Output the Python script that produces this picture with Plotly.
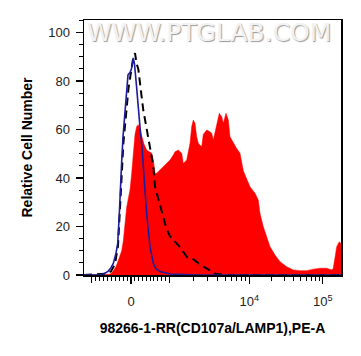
import numpy as np
import plotly.graph_objects as go

# ---- display (biexponential-like) axis definition ----
scale_values = [-1000, 0, 1000, 10000, 100000]
scale_channels = [7.7, 47.0, 85.3, 165.3, 238.7]

def to_channel(v):
    v = np.asarray(v, dtype=float)
    lin = np.interp(v, scale_values[:3], scale_channels[:3])
    lg = np.interp(np.log10(np.maximum(v, 1000.0)), [3, 4, 5], scale_channels[2:])
    return np.where(v <= 1000, lin, lg)

labeled_tick_values = [0, 10000, 100000]
labeled_tick_text = ["0", "10<sup>4</sup>", "10<sup>5</sup>"]
unlabeled_major_values = [-1000, 1000]
minor_tick_values = ([-100 * k for k in range(1, 10)] + [100 * k for k in range(1, 10)]
                     + [1000 * k for k in range(2, 10)] + [10000 * k for k in range(2, 10)])

# ---- data (x in display channels, y = relative cell number) ----
red_x = [0, 24, 26, 29, 32, 34.3, 37.7, 39.3, 41, 42.7, 44.5, 46, 47.7, 49.3, 51, 52.7, 54.3,
         56, 57.7, 60, 62.7, 65, 67.7, 69.3, 71, 72.7, 76, 79.3, 82.7, 86, 89.3, 91, 94.3,
         97.7, 99.3, 102.7, 106, 107.7, 109.3, 111, 112.7, 114.3, 116, 117.7, 119.3, 122.7,
         126, 127.7, 129.3, 132.7, 135.3, 137.7, 139.3, 142, 144.3, 146, 149.3, 152.7, 156,
         159.3, 162.3, 166, 171, 174.3, 176, 179.3, 182.7, 186, 191, 196, 202.7, 209.3, 216,
         222.7, 229.3, 236, 242.7, 247.7, 249.3, 252.7, 255.3, 257]
red_y = [0, 0, 0.3, 1.5, 3.5, 6, 10, 14, 21, 28, 32, 35, 42, 51.5, 58, 61.2, 62,
         59.8, 57, 54, 51.5, 50.8, 50.2, 47.4, 42, 42, 43.3, 44.7, 46, 47.4, 49.5, 50.8, 51.5,
         50.2, 46, 47.4, 54.3, 61.2, 63.9, 62.6, 57, 54.3, 53.5, 53, 58, 59.8,
         59.1, 58.4, 55.7, 62.6, 66.7, 65.3, 62.6, 66.7, 63.9, 57, 54.3, 52.2, 50.2,
         43, 40, 36.4, 33.7, 30.9, 25.4, 19.9, 15.8, 11.7, 8.2, 5.5, 3.4, 2.1, 1.8,
         1.8, 2.4, 2.8, 2.8, 2.1, 2.8, 11.7, 13.7, 13]

blue_x = [0, 16, 20, 24, 27, 29.3, 32, 33.7, 35.3, 36.5, 37.7, 39, 41, 42.5, 44, 46, 47.5,
          49.3, 50.5, 52.5, 54.3, 56, 57.7, 59.3, 61, 62.7, 66, 69.3, 72, 76, 86, 116, 257]
blue_y = [0, 0, 0.5, 1.5, 3, 4.8, 9, 13, 25, 39, 47, 57, 68, 78, 82.5, 83.5, 85,
          89.5, 87, 78, 68, 61, 54, 45, 35, 25, 11.7, 4.8, 2.5, 1.4, 0.4, 0, 0]

dash_x = [0, 22, 27, 31, 34, 35.5, 36.7, 39.3, 42.7, 44.5, 47.5, 49, 51, 52.7, 54.3, 56,
          57.5, 59.3, 62.7, 66, 69.3, 71, 76, 79, 82.5, 86, 91, 96, 102.7, 109.3, 116, 124,
          132, 142, 257]
dash_y = [0, 0.5, 1.5, 4.5, 12, 22, 33, 54, 68, 77, 85, 89, 91.5, 87, 85, 80,
          74, 68, 60, 53, 45, 36.4, 29, 24, 19, 16, 13.7, 11.5, 7.5, 6.5, 4.3, 2.2,
          0.4, 0, 0]

x_title = "98266-1-RR(CD107a/LAMP1),PE-A"
y_title = "Relative Cell Number"
watermark = "WWW.PTGLAB.COM"

x_range = [0, 257]

fig = go.Figure()
fig.add_trace(go.Scatter(x=red_x, y=red_y, mode="lines", fill="tozeroy",
                         fillcolor="#ff0000", line=dict(color="#ff0000", width=0.5),
                         showlegend=False, hoverinfo="skip"))
fig.add_trace(go.Scatter(x=blue_x, y=blue_y, mode="lines", xaxis="x2", yaxis="y",
                         line=dict(color="#1c1c9c", width=1.6),
                         showlegend=False, hoverinfo="skip"))
fig.add_trace(go.Scatter(x=dash_x, y=dash_y, mode="lines",
                         line=dict(color="#000000", width=2, dash="8px,5px"),
                         showlegend=False, hoverinfo="skip"))

tick_font = dict(family="Liberation Sans, Arial, sans-serif", size=13, color="#222222")
title_font = dict(family="Liberation Sans, Arial, sans-serif", size=14, color="#000000",
                  weight="bold")

fig.update_layout(
    width=361, height=356,
    margin=dict(l=84, r=20, t=20, b=81),
    paper_bgcolor="white", plot_bgcolor="white",
    xaxis=dict(
        range=x_range, showgrid=False, zeroline=False,
        showline=True, mirror=True, linecolor="black", linewidth=1.5,
        tickmode="array", tickvals=list(to_channel(labeled_tick_values)),
        ticktext=labeled_tick_text, ticks="outside", ticklen=7, tickwidth=1.5,
        tickcolor="black", tickfont=tick_font, ticklabelstandoff=7,
        minor=dict(tickmode="array", tickvals=list(to_channel(minor_tick_values)),
                   ticks="outside", ticklen=4, tickwidth=1, tickcolor="black"),
        title=dict(text=x_title, font=title_font, standoff=15),
    ),
    xaxis2=dict(
        range=x_range, overlaying="x", anchor="y", side="bottom",
        showgrid=False, zeroline=False, showline=False, showticklabels=False,
        tickmode="array", tickvals=list(to_channel(unlabeled_major_values)),
        ticks="outside", ticklen=7, tickwidth=1.5, tickcolor="black",
    ),
    yaxis=dict(
        range=[0, 105.15], showgrid=False, zeroline=False,
        showline=True, mirror=True, linecolor="black", linewidth=1.5,
        tickmode="linear", tick0=0, dtick=20, ticks="outside", ticklen=7, tickwidth=1.5,
        tickcolor="black", tickfont=tick_font, ticklabelstandoff=3,
        minor=dict(dtick=5, ticks="outside", ticklen=4, tickwidth=1, tickcolor="black"),
        title=dict(text=y_title, font=title_font, standoff=12),
    ),
    annotations=[dict(
        text=watermark, xref="paper", yref="paper", x=0.486, y=0.951,
        showarrow=False, xanchor="center", yanchor="middle",
        font=dict(family="DejaVu Sans, sans-serif", size=25, color="#f2f2f2",
                  shadow="1px 1px 1px #9a9a9a"),
    )],
)

fig.write_html(
    "out.html",
    config={"displayModeBar": False, "staticPlot": True},
    post_script="document.body.style.margin='0';document.body.style.overflow='hidden';",
)
